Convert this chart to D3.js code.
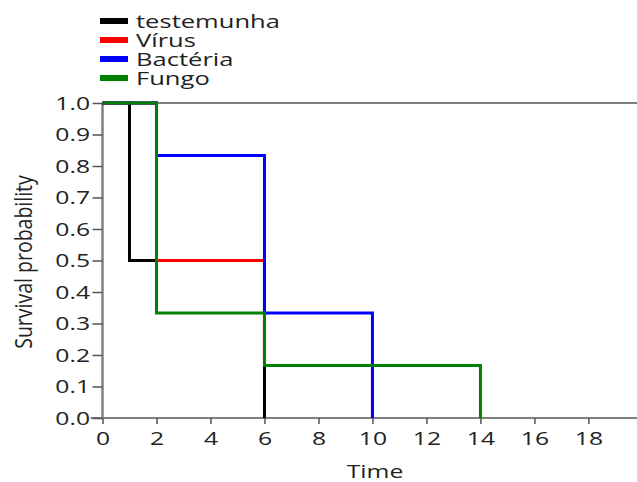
<!DOCTYPE html>
<html><head><meta charset="utf-8">
<script src="https://cdn.jsdelivr.net/npm/d3@7"></script>
<style>body{margin:0;background:#fff}svg{display:block}text{font-family:"Open Sans",sans-serif;fill:#222}</style>
</head><body><svg id="c" width="637" height="482"></svg>
<script>
const seriesNames = ["testemunha","Vírus","Bactéria","Fungo"];
const seriesColors = ["#000000","#ff0000","#0000ff","#008000"];
// step points: [time, survival]
const testemunha = [[0,1],[1,1],[1,0.5],[6,0.5],[6,0]];
const virus = [[0,1],[2,1],[2,0.5],[6,0.5],[6,0.1667],[10,0.1667],[10,0]];
const bacteria = [[0,1],[2,1],[2,0.8333],[6,0.8333],[6,0.3333],[10,0.3333],[10,0]];
const fungo = [[0,1],[2,1],[2,0.3333],[6,0.3333],[6,0.1667],[14,0.1667],[14,0]];
const xTicks = [0,2,4,6,8,10,12,14,16,18];
const yTicks = [0,0.1,0.2,0.3,0.4,0.5,0.6,0.7,0.8,0.9,1.0];
const allSeries = [testemunha, virus, bacteria, fungo];

const svg = d3.select("#c");
const x = d3.scaleLinear().domain([0,19.8]).range([102.5,637]);
const y = d3.scaleLinear().domain([0,1]).range([418,103]);
const axisColor = "#808080";
const SX = 1.3;

// top border line at 1.0
svg.append("line").attr("x1",102.5).attr("x2",637).attr("y1",y(1)).attr("y2",y(1))
  .attr("stroke",axisColor).attr("stroke-width",2);

const xa = svg.append("g").attr("transform",`translate(0,${y(0)})`)
  .call(d3.axisBottom(x).tickValues(xTicks).tickSize(6).tickPadding(4).tickFormat(d3.format("d")));
xa.select(".domain").attr("stroke",axisColor).attr("stroke-width",2).attr("d",`M${x(0)-12},0H637`);
xa.selectAll(".tick line").attr("stroke","#555").attr("stroke-width",1.5);
xa.selectAll("text").style("font-size","19px").attr("fill","#222")
  .attr("y",14).attr("dy","0.71em").attr("transform",`scale(${SX},1)`);

const ya = svg.append("g").attr("transform",`translate(${x(0)},0)`)
  .call(d3.axisLeft(y).tickValues(yTicks).tickSize(10).tickPadding(2).tickFormat(d3.format(".1f")));
ya.select(".domain").attr("stroke",axisColor).attr("stroke-width",2.5).attr("d",`M0,${y(0)}V${y(1)}`);
ya.selectAll(".tick line").attr("stroke","#555").attr("stroke-width",1.5);
ya.selectAll("text").style("font-size","19px").attr("fill","#222")
  .attr("x",-12.5/SX).attr("transform",`scale(${SX},1)`);

const line = d3.line().x(d=>x(d[0])).y(d=>y(d[1]));
allSeries.forEach((s,i)=>{
  svg.append("path").attr("d",line(s)).attr("fill","none")
    .attr("stroke",seriesColors[i]).attr("stroke-width",3);
});

// axis titles
svg.append("text").attr("transform",`translate(375,478) scale(${SX},1)`).attr("text-anchor","middle")
  .style("font-size","19px").text("Time");
svg.append("text").attr("transform","translate(32,262) rotate(-90) scale(1,1.25)")
  .attr("text-anchor","middle").style("font-size","19.5px").text("Survival probability");

// legend
const lg = svg.append("g");
seriesNames.forEach((n,i)=>{
  const yy = 21 + i*19;
  lg.append("line").attr("x1",100).attr("x2",128).attr("y1",yy).attr("y2",yy)
    .attr("stroke",seriesColors[i]).attr("stroke-width",6);
  lg.append("text").attr("transform",`translate(136,${yy+7}) scale(1.42,1)`)
    .style("font-size","18px").text(n);
});
</script></body></html>
